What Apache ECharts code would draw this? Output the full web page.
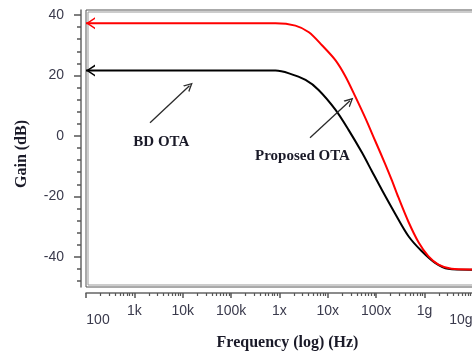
<!DOCTYPE html>
<html><head><meta charset="utf-8">
<script src="https://cdn.jsdelivr.net/npm/echarts@6/dist/echarts.min.js"></script>
<style>html,body{margin:0;padding:0;background:#fff}#c{width:472px;height:354px}</style>
</head><body><div id="c"></div>
<script>
// ---- data ----
const xTickFreqs = [1e2, 1e3, 1e4, 1e5, 1e6, 1e7, 1e8, 1e9, 1e10];
const xTickLabels = ['100', '1k', '10k', '100k', '1x', '10x', '100x', '1g', '10g'];
const yTickValues = [-40, -20, 0, 20, 40];
const yMinorTicks = [-48, -44, -36, -32, -28, -24, -16, -12, -8, -4, 4, 8, 12, 16, 24, 28, 32, 36];
const minorMantissas = [2, 3, 4, 5, 6, 7, 8, 9];

const proposedFreq = [100, 1e5, 8.3e5, 2.14e6, 4.07e6, 7.59e6, 1.45e7, 2.34e7, 3.72e7, 6.03e7, 9.55e7, 1.55e8, 2.14e8, 2.88e8, 4.68e8, 7.59e8, 1.2e9, 1.95e9, 3.63e9, 8.71e9, 3.16e10];
const proposedGain = [37.3, 37.3, 37.3, 36.5, 34.3, 30.0, 25.0, 19.6, 13.0, 5.8, -1.6, -9.4, -14.9, -20.3, -28.5, -35.3, -39.8, -42.6, -44.0, -44.2, -44.2];
const bdFreq = [100, 1e5, 8.3e5, 1.58e6, 3.47e6, 6.46e6, 1.45e7, 2.69e7, 5.13e7, 8.13e7, 1.32e8, 2.51e8, 4.68e8, 8.71e8, 1.66e9, 3.09e9, 8.71e9, 3.16e10];
const bdGain = [21.6, 21.6, 21.6, 20.7, 18.5, 15.2, 8.6, 2.0, -5.6, -11.6, -17.9, -25.9, -33.2, -38.1, -42.0, -44.0, -44.3, -44.3];

// ---- helpers ----
const lg = Math.log10;
const arrowLeft = 'path://M10,0 L0,6 L10,12 L10,10.2 L2.9,6 L10,1.8 Z';
const arrowUp = 'path://M0,10 L5,0 L10,10 L8.4,10 L5,3.2 L1.6,10 Z';
function toPoints(f, g) {
  return f.map((v, i) => {
    const p = [lg(v), g[i]];
    if (i === 0) return { value: p, symbol: arrowLeft, symbolSize: [9, 12], symbolOffset: [4.5, 0] };
    return p;
  });
}
const xMajor = xTickFreqs.map(lg);
const xMinor = [];
for (let d = 2; d <= 10; d++) minorMantissas.forEach(m => { const v = lg(m) + d; if (v <= 10.5) xMinor.push(v); });

const YMIN = -50, YMAX = 41.66, XMIN = 2, XMAX = 10.5;
const tickFont = { fontFamily: 'Liberation Sans', fontSize: 14, color: '#3a3a4c' };

const chart = echarts.init(document.getElementById('c'), null, { renderer: 'canvas' });
chart.setOption({
  animation: false,
  backgroundColor: '#fff',
  grid: [
    { left: 86, top: 10, width: 411, height: 277, outerBoundsMode: 'none', containLabel: false, show: true, borderColor: '#555', borderWidth: 1, backgroundColor: 'transparent' },
    { left: 88, top: 12, width: 411, height: 273, outerBoundsMode: 'none', containLabel: false, show: true, borderColor: '#999', borderWidth: 1, backgroundColor: 'transparent' }
  ],
  xAxis: [
    {
      type: 'value', gridIndex: 0, min: XMIN, max: XMAX, position: 'bottom', offset: 6,
      splitLine: { show: false },
      axisLine: { show: true, onZero: false, lineStyle: { color: '#666', width: 1.5 } },
      axisTick: { show: true, length: 5, customValues: xMajor, lineStyle: { color: '#555', width: 1.5 } },
      axisLabel: {
        show: true, margin: 11, customValues: xMajor, ...tickFont,
        formatter: function (v) {
          const i = xMajor.findIndex(t => Math.abs(t - v) < 1e-6);
          const s = i >= 0 ? xTickLabels[i] : '';
          if (i === 0) return '{lo|' + s + '}';
          if (i === xMajor.length - 1) return '{hi|' + s + '}';
          return s;
        },
        rich: {
          lo: { ...tickFont, padding: [9, 0, 0, 24] },
          hi: { ...tickFont, padding: [9, 24, 0, 0] }
        }
      }
    },
    {
      type: 'value', gridIndex: 0, min: XMIN, max: XMAX, position: 'bottom', offset: 6,
      splitLine: { show: false },
      axisLine: { show: false, onZero: false },
      axisTick: { show: true, length: 3, customValues: xMinor, lineStyle: { color: '#555', width: 1.2 } },
      axisLabel: { show: false }
    },
    { type: 'value', gridIndex: 1, min: XMIN, max: XMAX, show: false }
  ],
  yAxis: [
    {
      type: 'value', gridIndex: 0, min: YMIN, max: YMAX, position: 'left', offset: 5,
      splitLine: { show: false },
      axisLine: { show: true, onZero: false, lineStyle: { color: '#666', width: 1.5 } },
      axisTick: { show: true, length: 7, customValues: yTickValues, lineStyle: { color: '#555', width: 1.5 } },
      axisLabel: { show: true, margin: 17, customValues: yTickValues, ...tickFont }
    },
    {
      type: 'value', gridIndex: 0, min: YMIN, max: YMAX, position: 'left', offset: 5,
      splitLine: { show: false },
      axisLine: { show: false, onZero: false },
      axisTick: { show: true, length: 4, customValues: yMinorTicks, lineStyle: { color: '#555', width: 1.5 } },
      axisLabel: { show: false }
    },
    { type: 'value', gridIndex: 1, min: YMIN, max: YMAX, show: false }
  ],
  series: [
    {
      name: 'BD OTA', type: 'line', xAxisIndex: 0, yAxisIndex: 0,
      data: toPoints(bdFreq, bdGain),
      symbol: 'none', smooth: 0.3,
      lineStyle: { color: '#000', width: 2 },
      itemStyle: { color: '#000', borderWidth: 0 },
      markLine: {
        silent: true, symbol: ['none', arrowUp], symbolSize: [9, 9],
        label: { show: false },
        lineStyle: { color: '#2a2a2a', width: 1.3, type: 'solid' },
        data: [[{ coord: [3.324, 4.35] }, { coord: [4.14, 16.6] }]]
      }
    },
    {
      name: 'Proposed OTA', type: 'line', xAxisIndex: 0, yAxisIndex: 0,
      data: toPoints(proposedFreq, proposedGain),
      symbol: 'none', smooth: 0.3,
      lineStyle: { color: '#ff0000', width: 2 },
      itemStyle: { color: '#ff0000', borderWidth: 0 },
      markLine: {
        silent: true, symbol: ['none', arrowUp], symbolSize: [9, 9],
        label: { show: false },
        lineStyle: { color: '#2a2a2a', width: 1.3, type: 'solid' },
        data: [[{ coord: [6.633, -0.61] }, { coord: [7.46, 11.6] }]]
      }
    }
  ],
  graphic: [
    { type: 'text', x: 21.7, y: 154, rotation: Math.PI / 2, style: { text: 'Gain (dB)', font: 'bold 16px "Liberation Serif"', fill: '#1a1a28', align: 'center', verticalAlign: 'middle', textAlign: 'center', textVerticalAlign: 'middle' } },
    { type: 'text', x: 287.5, y: 342.7, style: { text: 'Frequency (log) (Hz)', font: 'bold 16px "Liberation Serif"', fill: '#1a1a28', align: 'center', verticalAlign: 'middle', textAlign: 'center', textVerticalAlign: 'middle' } },
    { type: 'text', x: 161.3, y: 141.7, style: { text: 'BD OTA', font: 'bold 15px "Liberation Serif"', fill: '#1a1a28', align: 'center', verticalAlign: 'middle', textAlign: 'center', textVerticalAlign: 'middle' } },
    { type: 'text', x: 302.5, y: 155.7, style: { text: 'Proposed OTA', font: 'bold 15px "Liberation Serif"', fill: '#1a1a28', align: 'center', verticalAlign: 'middle', textAlign: 'center', textVerticalAlign: 'middle' } }
  ]
});
</script>
</body></html>
